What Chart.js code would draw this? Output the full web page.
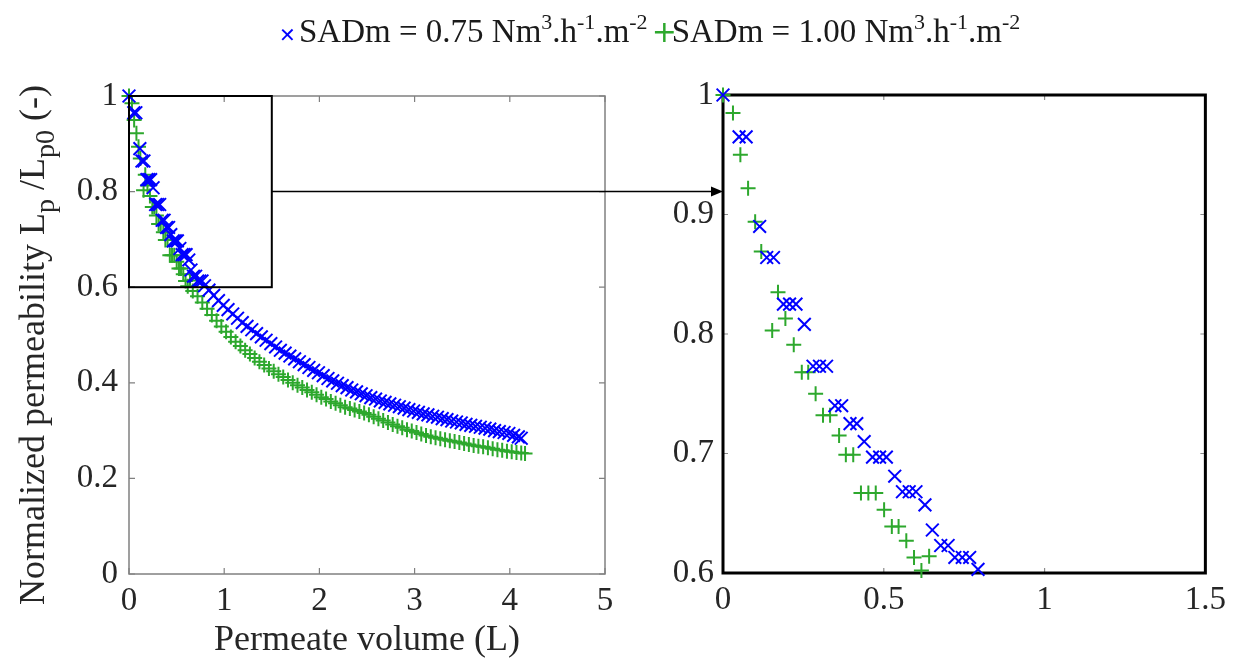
<!DOCTYPE html>
<html>
<head>
<title>Normalized permeability vs permeate volume</title>
<script src="https://cdn.jsdelivr.net/npm/chart.js"></script>
<style>
  body { margin: 0; background: #fff; width: 1234px; height: 666px; position: relative; overflow: hidden; font-family: "Liberation Serif", serif; }
  #legend { position: absolute; left: 279px; top: 6px; font-size: 33px; color: #1a1a1a; white-space: nowrap; line-height: 50px; }
  #legend sup { font-size: 22px; vertical-align: 13px; line-height: 0; }
  .mk { font-family: "DejaVu Sans", sans-serif; display: inline-block; width: 14px; text-align: center; margin-right: 6px; }
  #left { position: absolute; left: 0; top: 0; }
  #right { position: absolute; left: 640px; top: 0; }
</style>
</head>
<body>
<canvas id="left" width="724" height="666"></canvas>
<canvas id="right" width="594" height="666"></canvas>
<div id="legend"></div>

<script>
// SADm = 0.75 Nm3/h/m2 (blue x)
const volA = [0, 0.050, 0.072, 0.114, 0.136, 0.157, 0.188, 0.207, 0.227, 0.253,
  0.280, 0.300, 0.322, 0.348, 0.369, 0.395, 0.416, 0.439, 0.465, 0.487,
  0.508, 0.534, 0.558, 0.579, 0.600, 0.628, 0.651, 0.677, 0.700, 0.721,
  0.744, 0.767, 0.793, 0.84, 0.89, 0.94, 0.99, 1.04, 1.09, 1.14,
  1.19, 1.24, 1.29, 1.34, 1.39, 1.44, 1.49, 1.54, 1.59, 1.64,
  1.69, 1.74, 1.79, 1.84, 1.89, 1.94, 1.99, 2.04, 2.09, 2.14,
  2.19, 2.24, 2.29, 2.34, 2.39, 2.44, 2.49, 2.54, 2.59, 2.64,
  2.69, 2.74, 2.79, 2.84, 2.89, 2.94, 2.99, 3.04, 3.09, 3.14,
  3.19, 3.24, 3.29, 3.34, 3.39, 3.44, 3.49, 3.54, 3.59, 3.64,
  3.69, 3.74, 3.79, 3.84, 3.89, 3.94, 3.99, 4.04, 4.09, 4.12];
const lpA = [1.000, 0.965, 0.965, 0.890, 0.864, 0.864, 0.825, 0.825, 0.825, 0.808,
  0.773, 0.773, 0.773, 0.740, 0.740, 0.725, 0.725, 0.710, 0.697, 0.697,
  0.697, 0.681, 0.668, 0.668, 0.668, 0.657, 0.636, 0.623, 0.623, 0.613,
  0.613, 0.613, 0.603, 0.594, 0.583, 0.572, 0.562, 0.553, 0.544, 0.535,
  0.526, 0.518, 0.511, 0.503, 0.496, 0.489, 0.482, 0.475, 0.468, 0.462,
  0.456, 0.450, 0.444, 0.438, 0.432, 0.426, 0.421, 0.415, 0.409, 0.404,
  0.399, 0.394, 0.390, 0.385, 0.381, 0.377, 0.373, 0.369, 0.366, 0.362,
  0.359, 0.356, 0.353, 0.350, 0.347, 0.344, 0.341, 0.338, 0.335, 0.333,
  0.330, 0.328, 0.325, 0.323, 0.320, 0.318, 0.316, 0.313, 0.311, 0.309,
  0.307, 0.305, 0.303, 0.300, 0.298, 0.296, 0.294, 0.290, 0.287, 0.284];

// SADm = 1.00 Nm3/h/m2 (green +)
const volB = [0, 0.031, 0.054, 0.078, 0.100, 0.119, 0.153, 0.171, 0.194, 0.220,
  0.245, 0.265, 0.288, 0.311, 0.333, 0.361, 0.382, 0.405, 0.429, 0.452,
  0.475, 0.501, 0.525, 0.546, 0.570, 0.594, 0.617, 0.641, 0.67, 0.72,
  0.77, 0.82, 0.87, 0.92, 0.97, 1.02, 1.07, 1.12, 1.17, 1.22,
  1.27, 1.32, 1.37, 1.42, 1.47, 1.52, 1.57, 1.62, 1.67, 1.72,
  1.77, 1.82, 1.87, 1.92, 1.97, 2.02, 2.07, 2.12, 2.17, 2.22,
  2.27, 2.32, 2.37, 2.42, 2.47, 2.52, 2.57, 2.62, 2.67, 2.72,
  2.77, 2.82, 2.87, 2.92, 2.97, 3.02, 3.07, 3.12, 3.17, 3.22,
  3.27, 3.32, 3.37, 3.42, 3.47, 3.52, 3.57, 3.62, 3.67, 3.72,
  3.77, 3.82, 3.87, 3.92, 3.97, 4.02, 4.07, 4.12, 4.16];
const lpB = [1.000, 0.985, 0.950, 0.922, 0.894, 0.869, 0.803, 0.835, 0.813, 0.791,
  0.768, 0.768, 0.750, 0.732, 0.732, 0.715, 0.699, 0.699, 0.667, 0.667,
  0.667, 0.653, 0.639, 0.639, 0.627, 0.613, 0.602, 0.614, 0.592, 0.581,
  0.568, 0.555, 0.542, 0.530, 0.518, 0.507, 0.496, 0.486, 0.477, 0.468,
  0.460, 0.452, 0.444, 0.437, 0.430, 0.424, 0.418, 0.412, 0.406, 0.400,
  0.395, 0.390, 0.385, 0.380, 0.375, 0.370, 0.366, 0.361, 0.357, 0.353,
  0.349, 0.346, 0.343, 0.340, 0.337, 0.333, 0.329, 0.325, 0.321, 0.317,
  0.313, 0.309, 0.306, 0.302, 0.299, 0.296, 0.293, 0.290, 0.287, 0.285,
  0.283, 0.281, 0.279, 0.277, 0.275, 0.273, 0.271, 0.269, 0.267, 0.266,
  0.264, 0.262, 0.260, 0.259, 0.257, 0.256, 0.254, 0.253, 0.252];

const mainXTicks = [0, 1, 2, 3, 4, 5];
const mainYTicks = [0, 0.2, 0.4, 0.6, 0.8, 1];
const zoomXTicks = [0, 0.5, 1, 1.5];
const zoomYTicks = [0.6, 0.7, 0.8, 0.9, 1];
const zoomBox = { x0: 0, x1: 1.5, y0: 0.6, y1: 1 };
const arrowAt = 0.8;

const BLUE = '#0000ff';
const GREEN = '#2da82d';
const FONT = 'Liberation Serif';

document.getElementById('legend').innerHTML =
  '<span class="mk" style="color:' + BLUE + ';font-size:20px">&#x2715;</span>SADm = 0.75 Nm<sup>3</sup>.h<sup>-1</sup>.m<sup>-2</sup>' +
  '<span class="mk" style="color:' + GREEN + ';font-size:30px;margin-left:4px">+</span>SADm = 1.00 Nm<sup>3</sup>.h<sup>-1</sup>.m<sup>-2</sup>';

function pts(xs, ys) {
  return xs.map((v, i) => ({ x: v, y: ys[i] }));
}

function datasets(filter) {
  const a = pts(volA, lpA).filter(filter);
  const b = pts(volB, lpB).filter(filter);
  return [
    { data: a, pointStyle: 'crossRot', radius: 9, borderWidth: 2, borderColor: BLUE, backgroundColor: BLUE, showLine: false, clip: false },
    { data: b, pointStyle: 'cross', radius: 7.5, borderWidth: 2, borderColor: GREEN, backgroundColor: GREEN, showLine: false, clip: false }
  ];
}

function fmt(v) { return String(+v.toFixed(2)); }

// box around the axes plus MATLAB style inward ticks
function framePlugin(color, width, tickColor, tickLen) {
  return {
    id: 'frame',
    beforeDatasetsDraw(chart) {
      const { ctx, chartArea: a, scales: { x, y } } = chart;
      ctx.save();
      ctx.strokeStyle = tickColor;
      ctx.lineWidth = 1.2;
      ctx.beginPath();
      x.ticks.forEach(t => {
        const p = x.getPixelForValue(t.value);
        ctx.moveTo(p, a.bottom); ctx.lineTo(p, a.bottom - tickLen);
        ctx.moveTo(p, a.top); ctx.lineTo(p, a.top + tickLen);
      });
      y.ticks.forEach(t => {
        const p = y.getPixelForValue(t.value);
        ctx.moveTo(a.left, p); ctx.lineTo(a.left + tickLen, p);
        ctx.moveTo(a.right, p); ctx.lineTo(a.right - tickLen, p);
      });
      ctx.stroke();
      ctx.strokeStyle = color;
      ctx.lineWidth = width;
      ctx.strokeRect(a.left, a.top, a.right - a.left, a.bottom - a.top);
      ctx.restore();
    }
  };
}

// zoom rectangle and arrow to the right panel
const zoomPlugin = {
  id: 'zoomBox',
  afterDatasetsDraw(chart) {
    const { ctx, scales: { x, y } } = chart;
    const l = x.getPixelForValue(zoomBox.x0), r = x.getPixelForValue(zoomBox.x1);
    const t = y.getPixelForValue(zoomBox.y1), b = y.getPixelForValue(zoomBox.y0);
    const ay = y.getPixelForValue(arrowAt);
    const end = chart.width - 1;
    ctx.save();
    ctx.strokeStyle = '#000';
    ctx.lineWidth = 2;
    ctx.strokeRect(l, t, r - l, b - t);
    ctx.lineWidth = 1.5;
    ctx.beginPath();
    ctx.moveTo(r, ay); ctx.lineTo(end - 10, ay);
    ctx.stroke();
    ctx.fillStyle = '#000';
    ctx.beginPath();
    ctx.moveTo(end, ay); ctx.lineTo(end - 12, ay - 5); ctx.lineTo(end - 12, ay + 5);
    ctx.closePath();
    ctx.fill();
    ctx.restore();
  }
};

// y title with subscripts
const yTitlePlugin = {
  id: 'yTitle',
  afterDraw(chart) {
    const { ctx, chartArea: a } = chart;
    const segs = [['Normalized permeability L', 0], ['p', 1], [' /L', 0], ['p0', 1], [' (-)', 0]];
    const big = '36px "' + FONT + '"', small = '28px "' + FONT + '"';
    ctx.save();
    let total = 0;
    segs.forEach(s => { ctx.font = s[1] ? small : big; total += ctx.measureText(s[0]).width; });
    ctx.translate(44, (a.top + a.bottom) / 2 + 10);
    ctx.rotate(-Math.PI / 2);
    ctx.fillStyle = '#262626';
    ctx.textBaseline = 'alphabetic';
    let pos = -total / 2;
    segs.forEach(s => {
      ctx.font = s[1] ? small : big;
      ctx.fillText(s[0], pos, s[1] ? 10 : 0);
      pos += ctx.measureText(s[0]).width;
    });
    ctx.restore();
  }
};

function axis(min, max, tickList, pad, extra) {
  return Object.assign({
    type: 'linear', min: min, max: max,
    grid: { display: false, drawTicks: false },
    border: { display: false },
    afterBuildTicks: ax => { ax.ticks = tickList.map(v => ({ value: v })); },
    ticks: { font: { family: FONT, size: 33 }, color: '#262626', padding: pad, callback: fmt }
  }, extra || {});
}

new Chart(document.getElementById('left'), {
  type: 'scatter',
  data: { datasets: datasets(() => true) },
  options: {
    responsive: false, animation: false,
    layout: { padding: { left: 0, right: 119, top: 96, bottom: 0 } },
    plugins: { legend: { display: false }, tooltip: { enabled: false } },
    scales: {
      x: axis(0, 5, mainXTicks, 8, {
        title: { display: true, text: 'Permeate volume (L)', font: { family: FONT, size: 36 }, color: '#262626', padding: { bottom: 4 } },
        afterFit: ax => { ax.height = 92; }
      }),
      y: axis(0, 1, mainYTicks, 11, { afterFit: ax => { ax.width = 129; } })
    }
  },
  plugins: [framePlugin('#808080', 1.5, '#808080', 6), zoomPlugin, yTitlePlugin]
});

new Chart(document.getElementById('right'), {
  type: 'scatter',
  data: { datasets: datasets(p => p.x <= zoomBox.x1 && p.y >= zoomBox.y0 - 0.002) },
  options: {
    responsive: false, animation: false,
    layout: { padding: { left: 0, right: 28, top: 95, bottom: 0 } },
    plugins: { legend: { display: false }, tooltip: { enabled: false } },
    scales: {
      x: axis(0, 1.5, zoomXTicks, 8, { afterFit: ax => { ax.height = 93; } }),
      y: axis(0.6, 1, zoomYTicks, 9, { afterFit: ax => { ax.width = 83; } })
    }
  },
  plugins: [framePlugin('#000', 3, '#8c8c8c', 5)]
});
</script>
</body>
</html>
